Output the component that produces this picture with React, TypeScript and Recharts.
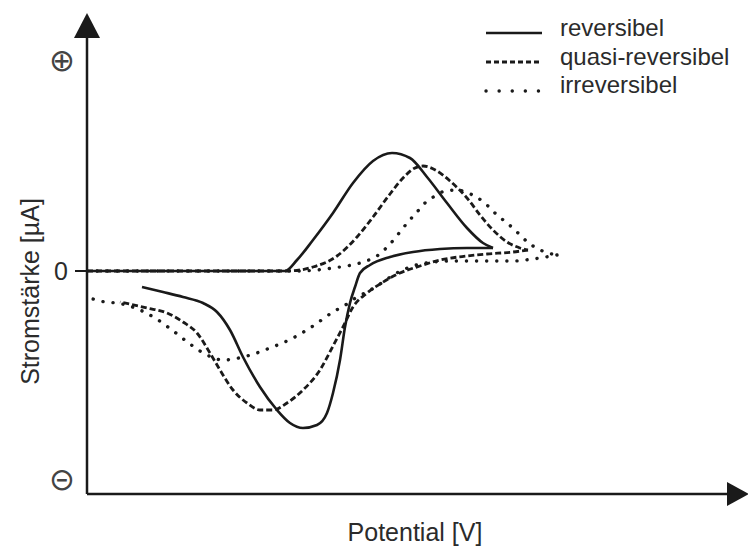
import { LineChart, Line, XAxis, YAxis, Label, ReferenceDot } from 'recharts';

// Potential (x) and Stromstärke (y) in arbitrary units.
// Each voltammogram is split into its forward (Hin) and backward (Rück) scan.
const reversibelHin = [
  [0, 0], [100, 0], [198, 0], [210, 11], [226, 31], [246, 58], [266, 88], [286, 110],
  [305, 118], [323, 113], [340, 94], [360, 68], [380, 43], [396, 28], [406, 23],
];
const reversibelRueck = [
  [406, 23], [380, 23], [353, 22], [326, 19], [303, 14], [283, 6], [273, -2], [268, -16],
  [263, -32], [258, -56], [253, -89], [246, -122], [240, -142], [230, -154], [216, -157],
  [203, -152], [190, -139], [173, -116], [156, -86], [143, -59], [130, -41], [116, -32],
  [96, -26], [76, -21], [55, -16],
];
const quasiHin = [
  [0, 0], [100, 0], [200, 0], [226, 4], [250, 15], [270, 34], [286, 54], [303, 77],
  [316, 93], [326, 102], [336, 105], [350, 100], [363, 90], [380, 73], [393, 56],
  [406, 41], [420, 29], [433, 23], [441, 21],
];
const quasiRueck = [
  [441, 21], [426, 19], [400, 17], [380, 15], [353, 11], [333, 5], [313, -2], [293, -13],
  [280, -22], [266, -36], [256, -56], [246, -75], [233, -99], [216, -119], [200, -132],
  [186, -139], [173, -139], [160, -132], [146, -119], [133, -99], [123, -82], [110, -62],
  [96, -51], [80, -42], [60, -37], [33, -31],
];
const irreversibelHin = [
  [0, 0], [100, 0], [210, 0], [246, 3], [276, 9], [290, 15], [303, 27], [313, 39],
  [321, 49], [330, 59], [338, 68], [348, 75], [358, 80], [370, 81], [381, 78], [391, 73],
  [401, 65], [410, 56], [420, 48], [428, 41], [436, 33], [446, 25], [458, 19], [470, 16],
];
const irreversibelRueck = [
  [470, 16], [446, 12], [426, 10], [406, 10], [386, 10], [366, 10], [346, 9], [326, 5],
  [308, -3], [293, -13], [280, -21], [270, -26], [260, -33], [246, -41], [226, -55],
  [206, -67], [183, -77], [160, -85], [136, -89], [120, -84], [103, -73], [85, -59],
  [68, -47], [53, -39], [30, -32], [18, -31], [6, -28],
];

const seriesNames = ['reversibel', 'quasi-reversibel', 'irreversibel'];
const xDomain = [0, 648];
const yDomain = [-223, 236];
// where the ⊝, 0 and ⊕ marks sit on the current axis
const yTicks = [-208, 0, 211];

const FONT = '"Liberation Sans", Arial, sans-serif';
const INK = '#1a1a1a';
const TEXT = '#2b2b2b';

const lineStyles: any[] = [
  { strokeWidth: 2.6 },
  { strokeWidth: 2.8, strokeDasharray: '6 3' },
  { strokeWidth: 3.4, strokeDasharray: '0.1 10', strokeLinecap: 'round' },
];
const legendStyles: any[] = [
  { strokeWidth: 2.6 },
  { strokeWidth: 2.8, strokeDasharray: '5 3' },
  { strokeWidth: 3.4, strokeDasharray: '0.1 13', strokeLinecap: 'round' },
];

const branches = [
  { key: 'revHin', pts: reversibelHin, s: 0 },
  { key: 'revRueck', pts: reversibelRueck, s: 0 },
  { key: 'quasiHin', pts: quasiHin, s: 1 },
  { key: 'quasiRueck', pts: quasiRueck, s: 1 },
  { key: 'irrHin', pts: irreversibelHin, s: 2 },
  { key: 'irrRueck', pts: irreversibelRueck, s: 2 },
];

const toPoints = (arr: number[][]) => arr.map(([x, y]) => ({ x, y }));

const YTick = (props: any) => {
  const { x, y, payload } = props;
  if (payload.value === 0) {
    return (
      <g>
        <line x1={x + 7} x2={x + 19} y1={y} y2={y} stroke={INK} strokeWidth={2} />
        <text x={x} y={y} dy="0.36em" textAnchor="end" fontFamily={FONT} fontSize={25} fill={TEXT}>
          0
        </text>
      </g>
    );
  }
  return (
    <text x={x - 6} y={y} dy="0.36em" textAnchor="middle" fontFamily="DejaVu Sans" fontSize={31} fill="#444">
      {payload.value > 0 ? '⊕' : '⊝'}
    </text>
  );
};

const XLabel = (props: any) => {
  const { x, y, width } = props.viewBox;
  return (
    <text x={x + width / 2 + 4} y={y + 47} textAnchor="middle" fontFamily={FONT} fontSize={25} fill={TEXT}>
      Potential [V]
    </text>
  );
};

const YLabel = (props: any) => {
  const { y, height } = props.viewBox;
  const cy = y + height / 2 + 27;
  return (
    <text x={39} y={cy} transform={`rotate(-90 39 ${cy})`} textAnchor="middle" fontFamily={FONT} fontSize={25} fill={TEXT}>
      Stromstärke [µA]
    </text>
  );
};

const ArrowUp = (p: any) => (
  <path d={`M${p.cx - 13},${p.cy + 3} L${p.cx},${p.cy - 22} L${p.cx + 13},${p.cy + 3} Z`} fill={INK} />
);
const ArrowRight = (p: any) => (
  <path d={`M${p.cx - 8},${p.cy - 12} L${p.cx + 14},${p.cy} L${p.cx - 8},${p.cy + 12} Z`} fill={INK} />
);

export default function App() {
  return (
    <div style={{ position: 'absolute', left: 0, top: 0, background: '#fff' }}>
      <LineChart width={748} height={548} margin={{ top: 35, right: 13, bottom: 0, left: 0 }}>
        <XAxis
          type="number"
          dataKey="x"
          domain={xDomain}
          allowDataOverflow
          tick={false}
          tickLine={false}
          height={54}
          axisLine={{ stroke: INK, strokeWidth: 2.5 }}
        >
          <Label content={XLabel} />
        </XAxis>
        <YAxis
          type="number"
          dataKey="y"
          domain={yDomain}
          allowDataOverflow
          ticks={yTicks}
          interval={0}
          tick={YTick}
          tickLine={false}
          tickSize={12}
          tickMargin={7}
          width={87}
          axisLine={{ stroke: INK, strokeWidth: 2.5 }}
        >
          <Label content={YLabel} />
        </YAxis>
        {branches.map((b) => (
          <Line
            key={b.key}
            data={toPoints(b.pts)}
            dataKey="y"
            type="monotone"
            stroke={INK}
            fill="none"
            dot={false}
            activeDot={false}
            legendType="none"
            isAnimationActive={false}
            {...lineStyles[b.s]}
          />
        ))}
        <ReferenceDot x={xDomain[0]} y={yDomain[1]} r={0} ifOverflow="visible" shape={ArrowUp} />
        <ReferenceDot x={xDomain[1]} y={yDomain[0]} r={0} ifOverflow="visible" shape={ArrowRight} />
        <g>
          {seriesNames.map((name, i) => (
            <g key={name}>
              <line x1={486} x2={542} y1={33 + i * 29} y2={33 + i * 29} stroke={INK} {...legendStyles[i]} />
              <text x={560} y={36 + i * 28.5} fontFamily={FONT} fontSize={24} fill={TEXT}>
                {name}
              </text>
            </g>
          ))}
        </g>
      </LineChart>
    </div>
  );
}
